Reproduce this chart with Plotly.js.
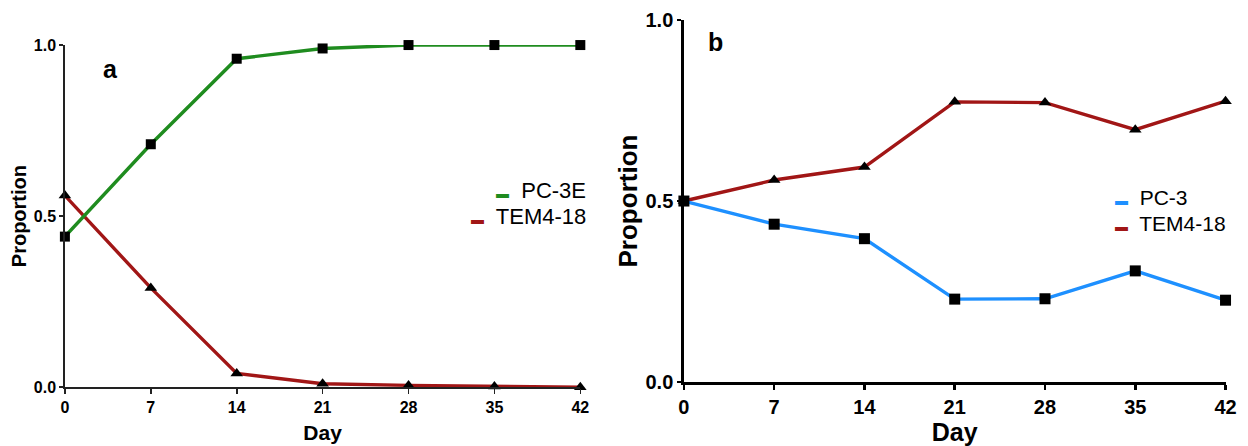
<!DOCTYPE html>
<html><head><meta charset="utf-8">
<script src="https://cdn.plot.ly/plotly-3.0.1.min.js"></script>
<style>html,body{margin:0;padding:0;background:#fff}#chart{width:1248px;height:446px}</style>
</head><body><div id="chart"></div>
<script>
const days = [0, 7, 14, 21, 28, 35, 42];
const dayTicks = ['0','7','14','21','28','35','42'];
const propTicks = [0, 0.5, 1.0];
const propTickText = ['0.0','0.5','1.0'];
// Panel a
const pc3e = [0.44, 0.71, 0.96, 0.99, 1.0, 1.0, 1.0];
const tem418a = [0.56, 0.29, 0.04, 0.01, 0.005, 0.002, 0.0];
// Panel b
const pc3 = [0.50, 0.436, 0.396, 0.229, 0.230, 0.307, 0.226];
const tem418b = [0.50, 0.558, 0.594, 0.774, 0.772, 0.697, 0.776];
const names = {a: ['PC-3E', 'TEM4-18'], b: ['PC-3', 'TEM4-18']};

const GREEN = '#1f8c1f', RED = '#a11616', BLUE = '#1e90ff';
const FONT = '"Liberation Sans", Arial, sans-serif';

function tr(x, y, color, sym, xa, ya, name, ms) {
  return {x: x, y: y, xaxis: xa, yaxis: ya, name: name, mode: 'lines+markers', type: 'scatter',
    cliponaxis: false, showlegend: false,
    line: {color: color, width: 3.4},
    marker: {color: '#000', symbol: sym, size: sym === 'square' ? ms : ms + 1}};
}

const data = [
  tr(days, tem418a, RED, 'triangle-up', 'x', 'y', names.a[1], 10),
  tr(days, pc3e, GREEN, 'square', 'x', 'y', names.a[0], 10),
  tr(days, tem418b, RED, 'triangle-up', 'x2', 'y2', names.b[1], 10),
  tr(days, pc3, BLUE, 'square', 'x2', 'y2', names.b[0], 11)
];

function xax(dom, lw, lc, fs, tfs, anchor, so) {
  return {domain: dom, range: [0, 42], anchor: anchor, tickvals: days, ticktext: dayTicks,
    showgrid: false, zeroline: false, showline: true, linecolor: lc, linewidth: lw,
    ticks: 'outside', ticklen: 5, tickwidth: lw, tickcolor: lc,
    tickfont: {family: FONT, size: fs, color: '#000', weight: 'bold'},
    title: {text: '<b>Day</b>', font: {family: FONT, size: tfs, color: '#000'}, standoff: so}};
}
function yax(dom, lw, lc, fs, tfs, anchor, so) {
  return {domain: dom, range: [0, 1.0], anchor: anchor, tickvals: propTicks, ticktext: propTickText,
    showgrid: false, zeroline: false, showline: true, linecolor: lc, linewidth: lw,
    ticks: 'outside', ticklen: 4, tickwidth: lw, tickcolor: lc,
    tickfont: {family: FONT, size: fs, color: '#000', weight: 'bold'},
    title: {text: '<b>Proportion</b>', font: {family: FONT, size: tfs, color: '#000'}, standoff: so}};
}

function legText(color, name) {
  return '<span style="color:' + color + ';font-size:13px">▬</span>  ' + name;
}
const layout = {
  width: 1248, height: 446, margin: {l: 0, r: 0, t: 0, b: 0},
  paper_bgcolor: '#fff', plot_bgcolor: '#fff', showlegend: false,
  xaxis: xax([0.052, 0.465], 1.6, '#222', 16, 21, 'y', 10),
  yaxis: yax([0.132, 0.899], 1.6, '#222', 16, 20, 'x', 2),
  xaxis2: xax([0.548, 0.982], 2.6, '#000', 20, 25, 'y2', 8),
  yaxis2: yax([0.1435, 0.955], 2.6, '#000', 20, 26, 'x2', 1),
  annotations: [
    {xref: 'paper', yref: 'paper', x: 101/1248, y: 1-53/446, text: '<b>a</b>', showarrow: false,
      font: {family: FONT, size: 25, color: '#000'}},
    {xref: 'paper', yref: 'paper', x: 715/1248, y: 1-26/446, text: '<b>b</b>', showarrow: false,
      font: {family: FONT, size: 25, color: '#000'}},
    {xref: 'paper', yref: 'paper', x: 588/1248, y: 1-190/446, xanchor: 'right', align: 'right',
      text: legText(GREEN, names.a[0]), showarrow: false, font: {family: FONT, size: 22, color: '#000'}},
    {xref: 'paper', yref: 'paper', x: 588/1248, y: 1-217/446, xanchor: 'right', align: 'right',
      text: legText(RED, names.a[1]), showarrow: false, font: {family: FONT, size: 22, color: '#000'}},
    {xref: 'paper', yref: 'paper', x: 1113/1248, y: 1-197/446, xanchor: 'left', align: 'left',
      text: legText(BLUE, names.b[0]), showarrow: false, font: {family: FONT, size: 21, color: '#000'}},
    {xref: 'paper', yref: 'paper', x: 1113/1248, y: 1-223/446, xanchor: 'left', align: 'left',
      text: legText(RED, names.b[1]), showarrow: false, font: {family: FONT, size: 21, color: '#000'}}
  ]
};
Plotly.newPlot('chart', data, layout, {displayModeBar: false, staticPlot: true});
</script></body></html>
